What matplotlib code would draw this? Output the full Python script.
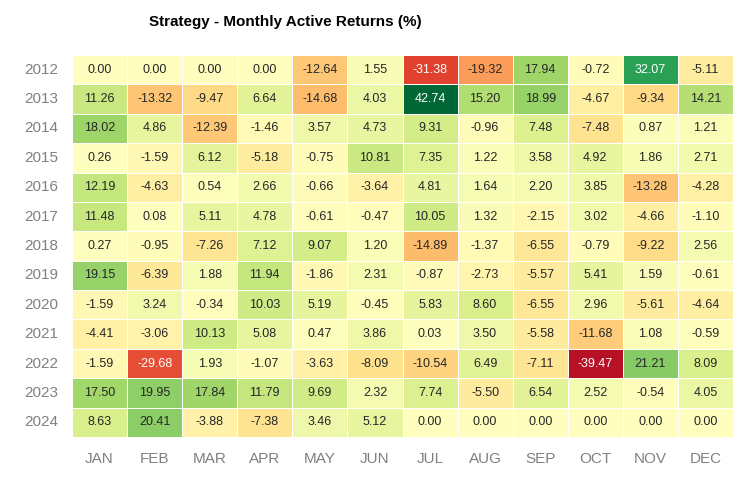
import matplotlib
matplotlib.use("Agg")
import matplotlib.pyplot as plt
import seaborn as sns
import numpy as np
import pandas as pd

# monthly active returns (%) - strategy vs benchmark
years = [2012, 2013, 2014, 2015, 2016, 2017, 2018, 2019, 2020, 2021, 2022, 2023, 2024]
months = ["JAN", "FEB", "MAR", "APR", "MAY", "JUN", "JUL", "AUG", "SEP", "OCT", "NOV", "DEC"]

r2012 = [0.00, 0.00, 0.00, 0.00, -12.64, 1.55, -31.38, -19.32, 17.94, -0.72, 32.07, -5.11]
r2013 = [11.26, -13.32, -9.47, 6.64, -14.68, 4.03, 42.74, 15.20, 18.99, -4.67, -9.34, 14.21]
r2014 = [18.02, 4.86, -12.39, -1.46, 3.57, 4.73, 9.31, -0.96, 7.48, -7.48, 0.87, 1.21]
r2015 = [0.26, -1.59, 6.12, -5.18, -0.75, 10.81, 7.35, 1.22, 3.58, 4.92, 1.86, 2.71]
r2016 = [12.19, -4.63, 0.54, 2.66, -0.66, -3.64, 4.81, 1.64, 2.20, 3.85, -13.28, -4.28]
r2017 = [11.48, 0.08, 5.11, 4.78, -0.61, -0.47, 10.05, 1.32, -2.15, 3.02, -4.66, -1.10]
r2018 = [0.27, -0.95, -7.26, 7.12, 9.07, 1.20, -14.89, -1.37, -6.55, -0.79, -9.22, 2.56]
r2019 = [19.15, -6.39, 1.88, 11.94, -1.86, 2.31, -0.87, -2.73, -5.57, 5.41, 1.59, -0.61]
r2020 = [-1.59, 3.24, -0.34, 10.03, 5.19, -0.45, 5.83, 8.60, -6.55, 2.96, -5.61, -4.64]
r2021 = [-4.41, -3.06, 10.13, 5.08, 0.47, 3.86, 0.03, 3.50, -5.58, -11.68, 1.08, -0.59]
r2022 = [-1.59, -29.68, 1.93, -1.07, -3.63, -8.09, -10.54, 6.49, -7.11, -39.47, 21.21, 8.09]
r2023 = [17.50, 19.95, 17.84, 11.79, 9.69, 2.32, 7.74, -5.50, 6.54, 2.52, -0.54, 4.05]
r2024 = [8.63, 20.41, -3.88, -7.38, 3.46, 5.12, 0.00, 0.00, 0.00, 0.00, 0.00, 0.00]

returns = pd.DataFrame([r2012, r2013, r2014, r2015, r2016, r2017, r2018,
                        r2019, r2020, r2021, r2022, r2023, r2024],
                       index=years, columns=months)

plt.rcParams["font.family"] = ["Liberation Sans", "DejaVu Sans"]

fig = plt.figure(figsize=(7.38, 4.92), dpi=100)
ax = fig.add_axes([72 / 738, 1 - 437 / 492, 661 / 738, 382 / 492])

sns.heatmap(returns, ax=ax, annot=True, center=0, fmt="0.2f",
            annot_kws={"size": 9}, linewidths=0.5, cbar=False, cmap="RdYlGn")

ax.tick_params(axis="both", length=0, colors="#808080", labelsize=11)
ax.tick_params(axis="x", pad=11)
ax.tick_params(axis="y", pad=10)
plt.setp(ax.get_yticklabels(), rotation=0)
ax.set_xlabel("")
ax.set_ylabel("")

fig.text(285 / 738, 1 - 22 / 492, "Strategy - Monthly Active Returns (%)",
         ha="center", va="center", fontsize=11, fontweight="bold")

fig.savefig("out.png", dpi=100)
